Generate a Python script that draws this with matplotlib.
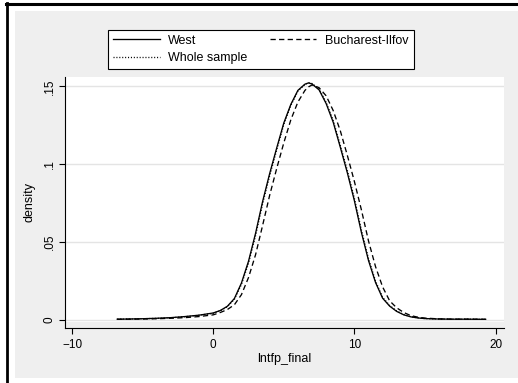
import numpy as np
import matplotlib
matplotlib.use('Agg')
import matplotlib.pyplot as plt
from matplotlib.patches import Rectangle
from matplotlib.lines import Line2D

plt.rcParams['font.family'] = ['Liberation Sans', 'DejaVu Sans']

# kernel density estimates
x_grid = [-6.8, -6, -5, -4, -3, -2, -1, 0, 0.5, 1, 1.5, 2, 2.5, 3, 3.5, 4, 4.5,
          5, 5.5, 6, 6.5, 6.75, 7, 7.5, 8, 8.5, 9, 9.5, 10, 10.5, 11, 11.5, 12,
          12.5, 13, 13.5, 14, 14.5, 15, 16, 17, 18, 19.3]

west = [.0002, .0003, .0005, .0008, .0012, .0019, .0028, .0042, .0058, .0085,
        .0135, .0235, .0375, .0555, .0760, .0940, .1105, .1265, .1385, .1475,
        .1515, .1523, .1516, .1478, .1390, .1270, .1110, .0945, .0765, .0560,
        .0380, .0238, .0137, .0086, .0052, .0030, .0017, .0010, .0006, .0003,
        .0002, .0002, .0001]

bucharest = [.0001, .0002, .0003, .0005, .0008, .0012, .0019, .0030, .0045, .0064,
             .0095, .0160, .0270, .0417, .0606, .0800, .0973, .1137, .1286, .1400,
             .1475, .1497, .1510, .1492, .1440, .1345, .1216, .1057, .0889, .0705,
             .0506, .0340, .0210, .0120, .0075, .0045, .0025, .0015, .0009, .0004,
             .0002, .0002, .0001]

whole = [.0002, .0003, .0005, .0007, .0011, .0018, .0027, .0040, .0056, .0082,
         .0130, .0226, .0362, .0540, .0745, .0926, .1092, .1255, .1378, .1470,
         .1513, .1524, .1519, .1484, .1398, .1281, .1122, .0960, .0780, .0575,
         .0392, .0247, .0143, .0090, .0055, .0032, .0018, .0011, .0006, .0003,
         .0002, .0002, .0001]

x_ticks = [-10, 0, 10, 20]
y_ticks = [0, .05, .1, .15]
y_tick_labels = ['0', '.05', '.1', '.15']

W, H = 518, 383
BG = '#efefef'

fig = plt.figure(figsize=(W / 100, H / 100), dpi=100)
fig.patch.set_facecolor('white')

# gray graph region and the black frame edges
fig.add_artist(Rectangle((15 / W, 1 - 378 / H), (W - 15) / W, (378 - 11) / H,
                         transform=fig.transFigure, facecolor=BG,
                         edgecolor='none', zorder=-2))
fig.add_artist(Line2D([7 / W, 7 / W], [0, 1 - 3 / H], transform=fig.transFigure,
                      color='black', linewidth=2, zorder=5))
fig.add_artist(Line2D([6 / W, 1], [1 - 3.5 / H, 1 - 3.5 / H],
                      transform=fig.transFigure, color='black', linewidth=2.2,
                      zorder=5))

ax = fig.add_axes([65 / W, 1 - 328 / H, (504 - 65) / W, (328 - 77) / H])
ax.set_facecolor('white')
ax.set_xlim(-10.5, 20.6)
ax.set_ylim(-0.00547, 0.1561)

# gray gap between plot region and x axis
ax.axhspan(-0.00547, -0.0016, color=BG, linewidth=0, zorder=0.5)

for yv in y_ticks:
    ax.axhline(yv, color='#e4e4e4', linewidth=1, zorder=0.6)

ax.plot(x_grid, west, color='black', linewidth=0.95, label='West', zorder=3)
ax.plot(x_grid, bucharest, color='black', linewidth=0.95, dashes=(4, 2.5),
        label='Bucharest-Ilfov', zorder=3)
ax.plot(x_grid, whole, color='black', linewidth=0.95, dashes=(0.8, 1.4),
        label='Whole sample', zorder=3)

ax.spines[['top', 'right']].set_visible(False)
for s in ['left', 'bottom']:
    ax.spines[s].set_linewidth(0.8)
    ax.spines[s].set_color('black')

ax.set_xticks(x_ticks)
ax.set_yticks(y_ticks)
ax.set_yticklabels(y_tick_labels)
ax.tick_params(direction='out', length=4.3, width=0.8, labelsize=8.5)
ax.tick_params(axis='x', pad=3.4)
ax.tick_params(axis='y', pad=2.6)
plt.setp(ax.get_yticklabels(), rotation=90, va='center')

ax.set_xlabel('lntfp_final', fontsize=9, labelpad=1.5)
ax.set_ylabel('density', fontsize=9, labelpad=6)

handles, labels = ax.get_legend_handles_labels()
order = [0, 2, 1]
leg = ax.legend([handles[i] for i in order], [labels[i] for i in order],
                ncol=2, loc='center',
                bbox_to_anchor=(261 / W, 1 - 49.5 / H),
                bbox_transform=fig.transFigure,
                fontsize=9, frameon=True, fancybox=False, framealpha=1,
                edgecolor='black', borderpad=0.4, handlelength=3.7,
                handletextpad=0.7, columnspacing=1.8, labelspacing=0.45,
                borderaxespad=0)
leg.get_frame().set_linewidth(0.8)

fig.savefig('out.png', dpi=100)
